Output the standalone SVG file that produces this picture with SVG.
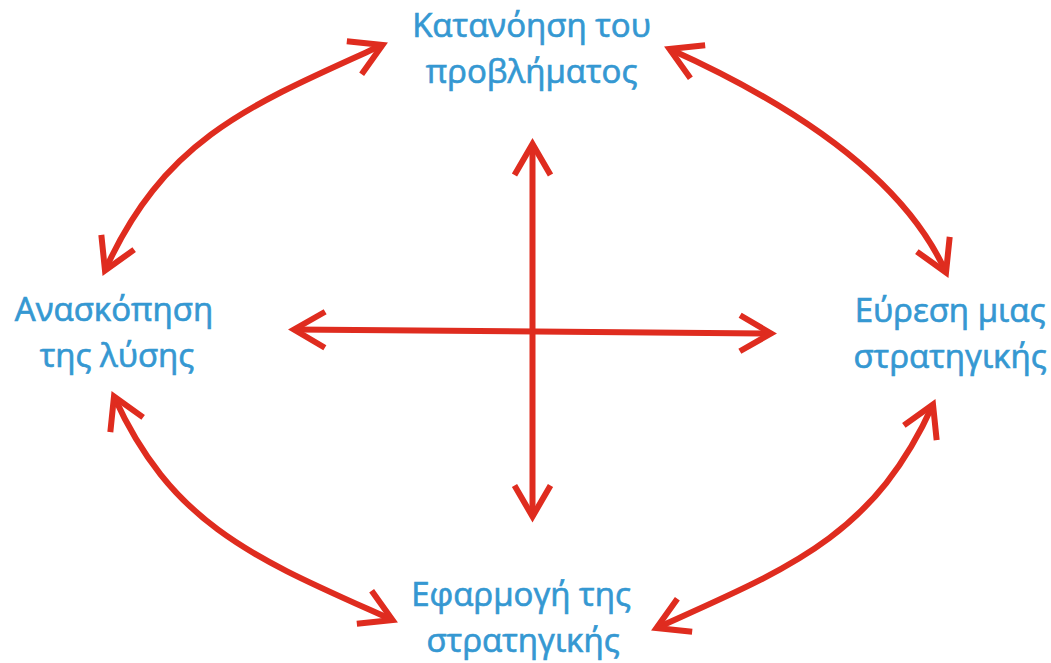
<svg xmlns="http://www.w3.org/2000/svg" width="1051" height="663" viewBox="0 0 1051 663">
<style>
.lbl{font-family:"Open Sans","Noto Sans","DejaVu Sans",sans-serif;font-size:33px;fill:#3598d2;stroke:#3598d2;stroke-width:0.7;text-anchor:middle}
.con{fill:none;stroke:#df2c1f;stroke-width:6}
</style>
<defs>
<marker id="ah" markerUnits="userSpaceOnUse" markerWidth="80" markerHeight="80" viewBox="-40 -40 80 80" refX="0" refY="0" orient="auto-start-reverse" overflow="visible">
<path d="M-31,-18 L0,0 L-31,18" fill="none" stroke="#df2c1f" stroke-width="6" stroke-linejoin="miter"/>
</marker>
</defs>
<rect width="1051" height="663" fill="#ffffff"/>
<g id="connectors">
<path class="con" d="M294,329.5 L771,333.5" marker-start="url(#ah)" marker-end="url(#ah)"/>
<path class="con" d="M532.5,144 L532.5,516.5" marker-start="url(#ah)" marker-end="url(#ah)"/>
<path class="con" d="M382.5,45 C250.5,104.5 164.5,138.5 105,270.5" marker-start="url(#ah)" marker-end="url(#ah)"/>
<path class="con" d="M669.5,49 C774,96 899,168 946,272.5" marker-start="url(#ah)" marker-end="url(#ah)"/>
<path class="con" d="M114,396.5 C173.5,528.5 260.5,560.5 392.5,620" marker-start="url(#ah)" marker-end="url(#ah)"/>
<path class="con" d="M933,404.5 C873.5,536.5 788.5,568.5 656.5,628" marker-start="url(#ah)" marker-end="url(#ah)"/>
</g>
<g id="node-top"><text class="lbl" x="531.5" y="37">Κατανόηση του</text><text class="lbl" x="531.5" y="83">προβλήματος</text></g>
<g id="node-left"><text class="lbl" x="114" y="321">Ανασκόπηση</text><text class="lbl" x="117" y="367">της λύσης</text></g>
<g id="node-right"><text class="lbl" x="950" y="322">Εύρεση μιας</text><text class="lbl" x="950" y="368">στρατηγικής</text></g>
<g id="node-bottom"><text class="lbl" x="521" y="606">Εφαρμογή της</text><text class="lbl" x="523" y="652">στρατηγικής</text></g>
</svg>
